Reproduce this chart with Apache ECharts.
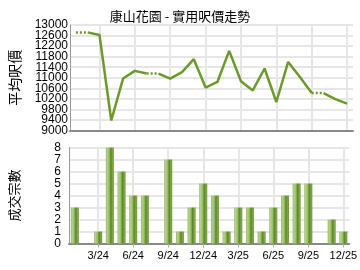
<!DOCTYPE html>
<html><head><meta charset="utf-8">
<script src="https://cdn.jsdelivr.net/npm/echarts@6/dist/echarts.min.js"></script>
<style>html,body{margin:0;padding:0;background:#fff}#c{width:360px;height:270px}</style>
</head><body><div id="c"></div>
<script>
const months = ['1/24','2/24','3/24','4/24','5/24','6/24','7/24','8/24','9/24','10/24','11/24','12/24',
  '1/25','2/25','3/25','4/25','5/25','6/25','7/25','8/25','9/25','10/25','11/25','12/25'];
const prices = [12720,12720,12620,9380,10970,11260,11160,11160,10970,11210,11705,10630,
  10840,12020,10870,10520,11350,10080,11600,11030,10420,10420,10190,10020];
// months with no transactions (price carried forward, drawn dotted)
const noData = [false,true,false,false,false,false,false,true,false,false,false,false,
  false,false,false,false,false,false,false,false,false,true,false,false];
const counts = [3,0,1,8,6,4,4,0,7,1,3,5,4,1,3,3,1,3,4,5,5,0,2,1];
const priceTicks = {min:9000, max:13000, step:400};
const countTicks = {min:0, max:8, step:1};
const title = '康山花園 - 實用呎價走勢';
const priceName = '平均呎價';
const countName = '成交宗數';

const chart = echarts.init(document.getElementById('c'), null, {renderer:'canvas'});
const font = 'Liberation Sans, Arial, sans-serif';
const cjk = '"Noto Sans CJK TC", sans-serif';
const lineColor = '#6b9a2a';
const everyThird = (i) => i % 3 === 2;

// build solid runs and dotted segments
const series = [];
const nul = () => months.map(() => null);
let run = null;
for (let i = 1; i < months.length; i++) {
  if (noData[i]) {
    const d = nul(); d[i-1] = prices[i-1]; d[i] = prices[i];
    series.push({type:'line', xAxisIndex:0, yAxisIndex:0, data:d, showSymbol:false, symbol:'none',
      lineStyle:{color:lineColor, width:2.5, type:[2,2]}, silent:true});
    run = null;
  } else {
    if (!run) { run = nul(); run[i-1] = prices[i-1];
      series.push({type:'line', xAxisIndex:0, yAxisIndex:0, data:run, showSymbol:false, symbol:'none',
        lineStyle:{color:lineColor, width:2.5}, silent:true}); }
    run[i] = prices[i];
  }
}
series.push({type:'bar', xAxisIndex:1, yAxisIndex:1, data:counts, barWidth:8,
  itemStyle:{color:new echarts.graphic.LinearGradient(0,0,1,0,[
    {offset:0,color:'#8fb35a'},{offset:0.15,color:'#b6d18f'},{offset:0.4,color:'#9dbf6c'},
    {offset:0.62,color:'#5a8922'},{offset:0.85,color:'#80a84c'},{offset:1,color:'#6b9636'}])}});

const gridLine = {show:true, interval:everyThird, alignWithLabel:true, lineStyle:{color:'#e6e6e6', width:2}};
const hGrid = {show:true, lineStyle:{color:'#e6e6e6', width:2}};
const step2 = priceTicks.step * 2;
const isEven = (v) => ((v - priceTicks.min) % step2) === 0;
const priceLabel = {margin:2, fontFamily:font, fontSize:12, color:'#000', lineHeight:9};

chart.setOption({
  animation:false,
  title:{text:title, left:'center', top:5, textStyle:{fontFamily:cjk, fontSize:13, fontWeight:'normal', color:'#000'}},
  grid:[
    {left:67, right:7, top:25, height:105.5},
    {left:67, right:7, top:147.5, height:96}
  ],
  xAxis:[
    {type:'category', gridIndex:0, data:months, boundaryGap:true,
      axisLine:{lineStyle:{color:'#888', width:2}}, axisTick:{show:false}, axisLabel:{show:false},
      splitLine:gridLine},
    {type:'category', gridIndex:1, data:months, boundaryGap:true,
      axisLine:{lineStyle:{color:'#888', width:2}},
      axisTick:{show:true, alignWithLabel:true, interval:everyThird, length:4, lineStyle:{color:'#aaa'}},
      axisLabel:{interval:everyThird, margin:7, fontFamily:font, fontSize:11, color:'#000'},
      splitLine:gridLine}
  ],
  yAxis:[
    {type:'value', gridIndex:0, min:priceTicks.min, max:priceTicks.max, interval:priceTicks.step,
      name:priceName, nameLocation:'middle', nameGap:48, nameRotate:90,
      nameTextStyle:{fontFamily:cjk, fontSize:14, color:'#000'},
      axisLine:{show:true, lineStyle:{color:'#999', width:1}}, axisTick:{show:false},
      axisLabel:{show:false},
      splitLine:hGrid},
    {type:'value', gridIndex:1, min:countTicks.min, max:countTicks.max, interval:countTicks.step,
      name:countName, nameLocation:'middle', nameGap:48, nameRotate:90,
      nameTextStyle:{fontFamily:cjk, fontSize:13, color:'#000'},
      axisLine:{show:true, lineStyle:{color:'#999', width:1}}, axisTick:{show:false},
      axisLabel:{margin:8, fontFamily:font, fontSize:12, color:'#000'}, splitLine:hGrid},
    // label-only axes for the price scale (alternating ticks so no labels get dropped)
    {type:'value', gridIndex:0, min:priceTicks.min, max:priceTicks.max, interval:step2, position:'left',
      axisLine:{show:false}, axisTick:{show:false}, splitLine:{show:false},
      axisLabel:Object.assign({formatter:(v)=>String(v), showMinLabel:true, showMaxLabel:true}, priceLabel)},
    {type:'value', gridIndex:0, min:priceTicks.min, max:priceTicks.max, interval:priceTicks.step, position:'left',
      axisLine:{show:false}, axisTick:{show:false}, splitLine:{show:false},
      axisLabel:Object.assign({formatter:(v)=>isEven(v) ? '' : String(v), showMinLabel:true, showMaxLabel:true}, priceLabel)}
  ],
  series:series
});
</script></body></html>
